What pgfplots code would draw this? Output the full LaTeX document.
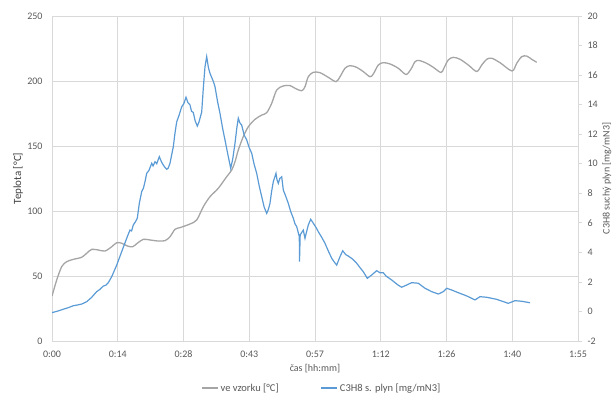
\documentclass[border=0pt]{standalone}
\usepackage{fontspec}
\setmainfont{Carlito}
\usepackage{pgfplots}
\pgfplotsset{compat=1.18}
\definecolor{gridc}{HTML}{D9D9D9}
\definecolor{txtc}{HTML}{595959}
\definecolor{greyl}{HTML}{A5A5A5}
\definecolor{bluel}{HTML}{5B9BD5}
\begin{document}
\begin{tikzpicture}
\useasboundingbox (-52pt,-55pt) rectangle (561pt,341pt);
\pgfplotsset{
 common/.style={width=526pt,height=325pt,scale only axis,xmin=0,xmax=115,
  /pgf/number format/assume math mode=true,
  tick label style={font=\fontsize{10}{12}\selectfont,text=txtc},
  label style={font=\fontsize{10}{12}\selectfont,text=txtc}},
}
\begin{axis}[common,at={(0,0)},anchor=south west,
 ymin=0,ymax=250,ytick={0,50,...,250},
 xtick={0,14.375,28.75,43.125,57.5,71.875,86.25,100.625,115},
 xticklabels={0:00,0:14,0:28,0:43,0:57,1:12,1:26,1:40,1:55},
 grid=major,grid style={gridc,line width=0.75pt},
 axis line style={gridc,line width=0.75pt},
 major tick length=0pt,
 xticklabel style={anchor=base,yshift=-17pt},
 yticklabel style={xshift=-6pt},
 xlabel={čas [hh:mm]},ylabel={Teplota [°C]},
 xlabel style={at={(axis description cs:0.5,-0.086)},anchor=center},
 ylabel style={at={(axis description cs:-0.0646,0.5)},anchor=center,font=\fontsize{11}{13}\selectfont,text=black!75},
]
\addplot[greyl,line width=1.3pt,smooth,tension=0.5] coordinates {
(0,34.6)(1.03,46.9)(2.12,57.2)(3.21,61.0)(4.66,62.8)(6.49,64.4)(7.59,67.5)(8.68,70.5)
(10.12,70.0)(11.59,69.2)(13.05,72.5)(14.15,75.6)(15.24,75.2)(16.46,73.1)(17.64,72.5)
(18.65,75.2)(19.96,78.2)(21.43,77.7)(23.24,76.9)(24.71,77.2)(25.80,80.2)(26.89,85.9)
(27.98,87.2)(30.17,90.0)(31.64,93.1)(33.08,103.3)(34.54,111.0)(36.36,117.5)(38.19,126.4)
(39.29,131.5)(40.01,137.9)(40.73,146.9)(41.82,157.2)(42.92,164.8)(44.38,170.5)(45.85,173.8)
(46.94,175.6)(48.03,182.8)(49.13,193.1)(50.57,196.2)(52.03,196.5)(53.13,194.4)(54.59,192.5)
(55.31,195.6)(56.03,203.3)(57.13,206.7)(58.59,206.4)(60.41,202.8)(62.09,199.5)(62.97,203.3)
(64.06,209.8)(65.15,211.8)(66.62,210.5)(68.06,207.2)(69.52,203.3)(70.25,205.4)(71.34,212.3)
(72.43,214.1)(73.90,213.1)(75.71,209.8)(77.40,205.0)(78.49,209.2)(79.36,214.8)(80.24,215.8)
(81.92,213.6)(83.37,210.5)(85.05,206.5)(85.70,210.0)(86.64,216.2)(87.74,218.2)(89.20,216.7)
(91.02,212.3)(92.85,207.3)(93.95,212.3)(95.04,216.7)(96.13,217.5)(97.95,214.1)(100.57,207.7)
(101.60,213.6)(102.69,218.7)(103.78,219.2)(104.88,216.7)(105.97,214.4)
};
\end{axis}
\begin{axis}[common,at={(0,0)},anchor=south west,
 ymin=-2,ymax=20,ytick={-2,0,...,20},
 axis x line=none,axis y line*=right,
 axis line style={gridc,line width=0.75pt},
 ytick style={gridc,line width=0.75pt},tick align=outside,major tick length=4pt,
 yticklabel style={xshift=2pt},
 ylabel={C3H8 suchý plyn [mg/mN3]},
 ylabel style={at={(axis description cs:1.055,0.5)},anchor=center},
 legend columns=2,
 legend style={at={(axis description cs:0.513,-0.1446)},anchor=center,draw=none,
  font=\fontsize{10.5}{12}\selectfont,text=txtc,
  /tikz/every even column/.append style={column sep=40pt}},
 legend image code/.code={\draw[#1] (0pt,0pt) -- (16pt,0pt);},
]
\addlegendimage{greyl,line width=1.3pt}
\addlegendentry{ve vzorku [°C]}
\addplot[bluel,line width=1.2pt] coordinates {
(0,-0.08)(1.2,0.02)(2.47,0.15)(3.6,0.26)(4.66,0.39)(5.6,0.44)(6.49,0.50)(7.59,0.66)(8.68,0.96)
(9.77,1.34)(10.5,1.50)(11.22,1.72)(11.8,1.78)(12.31,1.95)(13.05,2.35)(14.15,3.14)(15.24,4.05)
(16.33,4.95)(16.7,5.25)(17.05,5.51)(17.4,5.45)(17.77,5.85)(18.2,6.05)(18.65,6.31)(19.09,7.32)
(19.61,8.11)(20.0,8.35)(20.33,8.78)(20.70,9.35)(21.2,9.55)(21.80,10.03)(22.1,9.85)(22.52,10.14)
(22.9,10.0)(23.46,10.48)(23.9,10.15)(24.33,9.91)(24.7,9.75)(25.08,9.62)(25.4,9.7)(25.80,10.03)
(26.52,11.15)(26.9,12.1)(27.26,12.83)(27.8,13.3)(28.36,13.86)(28.8,14.05)(29.30,14.50)(29.7,14.15)
(30.17,13.98)(30.5,13.55)(30.89,13.47)(31.3,12.9)(31.77,12.55)(32.14,12.83)(32.73,13.50)
(33.1,15.2)(33.45,16.57)(33.82,17.25)(34.2,16.5)(34.54,16.12)(34.9,15.85)(35.3,15.55)(35.64,15.21)
(36.2,14.2)(36.73,13.41)(37.3,12.4)(37.82,11.61)(38.4,10.7)(39.07,9.69)(39.5,10.3)(40.01,11.38)
(40.4,12.4)(40.73,13.08)(41.1,12.75)(41.47,12.62)(42.0,11.95)(42.57,11.61)(43.1,11.1)(43.66,10.71)
(44.2,9.95)(44.75,9.35)(45.3,8.5)(45.85,7.77)(46.4,7.05)(46.94,6.64)(47.3,6.9)(47.66,7.32)
(48.0,8.1)(48.38,8.78)(48.97,9.35)(49.2,8.9)(49.48,8.67)(49.8,9.0)(50.22,9.12)(50.57,8.22)
(51.1,7.8)(51.66,7.32)(52.2,6.75)(52.76,6.31)(53.1,5.95)(53.50,5.74)(54.07,5.06)(54.11,3.37)
(54.26,5.18)(54.6,5.35)(54.94,5.51)(55.31,4.95)(55.7,5.45)(56.03,5.85)(56.56,6.24)(57.13,5.97)
(57.7,5.7)(58.22,5.40)(59.0,5.0)(59.69,4.61)(60.4,4.1)(61.15,3.60)(61.7,3.35)(62.24,3.14)
(62.97,3.71)(63.56,4.11)(64.2,3.85)(64.78,3.75)(65.7,3.55)(66.62,3.26)(67.3,2.98)(68.06,2.69)
(68.93,2.24)(69.90,2.47)(70.99,2.76)(71.7,2.62)(72.43,2.62)(73.02,2.40)(74.27,2.13)(74.99,1.95)
(75.7,1.78)(76.45,1.64)(77.55,1.79)(78.64,1.95)(80.08,1.91)(81.55,1.57)(83.01,1.34)(84.46,1.18)
(85.55,1.34)(86.29,1.57)(87.39,1.45)(88.83,1.27)(90.67,1.05)(92.48,0.78)(93.57,1.00)(95.04,0.96)
(97.22,0.82)(99.76,0.55)(101.22,0.73)(102.69,0.69)(104.50,0.59)
};
\addlegendentry{C3H8 s. plyn [mg/mN3]}
\end{axis}
\end{tikzpicture}
\end{document}
